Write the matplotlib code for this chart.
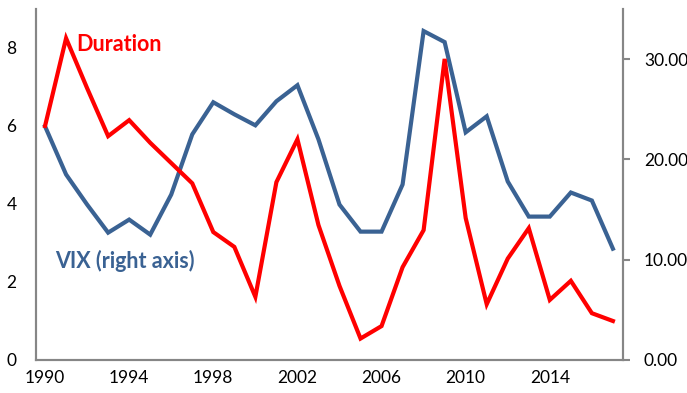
import matplotlib
matplotlib.use("Agg")
import matplotlib.pyplot as plt

years = list(range(1990, 2018))
duration = [6.0, 8.25, 6.97, 5.74, 6.15, 5.57, 5.05, 4.53, 3.28, 2.9, 1.62, 4.56, 5.66, 3.46,
            1.9, 0.55, 0.87, 2.38, 3.33, 7.72, 3.64, 1.43, 2.6, 3.38, 1.54, 2.03, 1.2, 1.0]
vix = [23.3, 18.5, 15.5, 12.7, 14.0, 12.5, 16.5, 22.5, 25.7, 24.5, 23.4, 25.8, 27.4, 22.0,
       15.5, 12.8, 12.8, 17.5, 32.8, 31.7, 22.7, 24.3, 17.8, 14.3, 14.3, 16.7, 15.9, 11.1]
xticks = [1990, 1994, 1998, 2002, 2006, 2010, 2014]
left_ticks = [0, 2, 4, 6, 8]
right_ticks = [0, 10, 20, 30]

RED = "#FF0000"
BLUE = "#3A6293"
GRAY = "#868686"
plt.rcParams['font.family'] = ['Lato', 'DejaVu Sans']

fig = plt.figure(figsize=(6.87, 3.93), dpi=100)
ax = fig.add_axes([36/687, 33/393, (623-36)/687, (360-9)/393])
ax2 = ax.twinx()

ax.plot(years, duration, color=RED, lw=3, solid_joinstyle='miter', zorder=3)
ax2.plot(years, vix, color=BLUE, lw=3, solid_joinstyle='miter', zorder=2)
ax.set_zorder(ax2.get_zorder() + 1)
ax.patch.set_visible(False)

ax.set_xlim(1989.57, 2017.48)
ax.set_ylim(0, 9)
ax2.set_ylim(0, 35)

ax.set_xticks(xticks)
ax.set_xticklabels([str(x) for x in xticks], fontsize=12.5)
ax.set_yticks(left_ticks)
ax.set_yticklabels([str(v) for v in left_ticks], fontsize=12.5)
ax2.set_yticks(right_ticks)
ax2.set_yticklabels([f"{v:.2f}" for v in right_ticks], fontsize=12.5)

ax.tick_params(axis='x', length=0, pad=7)
ax.tick_params(axis='y', length=0, pad=14)
ax2.tick_params(axis='y', length=5, width=1.5, color=GRAY, pad=10)

for a in (ax, ax2):
    a.spines['top'].set_visible(False)
    for s in ('left', 'right', 'bottom'):
        a.spines[s].set_color(GRAY)
        a.spines[s].set_linewidth(1.5)

ax.text(1991.5, 8.1, "Duration", color=RED, fontsize=15.5, fontweight='bold', ha='left', va='center')
ax.text(1990.5, 2.55, "VIX (right axis)", color=BLUE, fontsize=15.5, fontweight='bold', ha='left', va='center')

fig.savefig("out.png", dpi=100)
